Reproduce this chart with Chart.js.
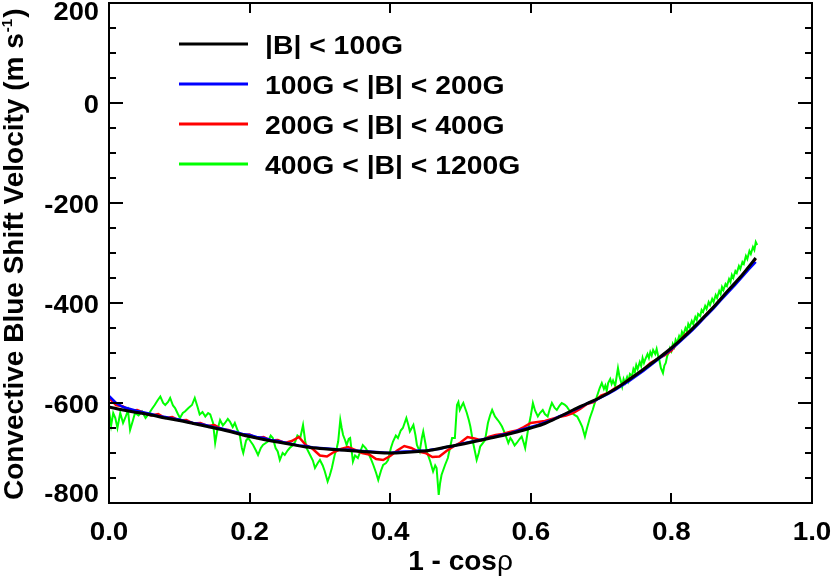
<!DOCTYPE html>
<html><head><meta charset="utf-8">
<script src="https://cdn.jsdelivr.net/npm/chart.js@4.4.1/dist/chart.umd.min.js"></script>
<style>html,body{margin:0;padding:0;background:#fff}#wrap{width:831px;height:576px;position:relative}</style>
</head><body><div id="wrap"><canvas id="c" width="831" height="576"></canvas></div>
<script>
const seriesLabels = ['|B| < 100G', '100G < |B| < 200G', '200G < |B| < 400G', '400G < |B| < 1200G'];
const seriesColors = ['#000000', '#0000ff', '#ff0000', '#00ff00'];
const xTickLabels = ['0.0', '0.2', '0.4', '0.6', '0.8', '1.0'];
const xTickValues = [0, 0.2, 0.4, 0.6, 0.8, 1.0];
const yTickLabels = ['-800', '-600', '-400', '-200', '0', '200'];
const yTickValues = [-800, -600, -400, -200, 0, 200];
const xTitle = ['1 - cos', 'ρ'];
const yTitle = ['Convective Blue Shift Velocity (m s', '-1', ')'];

const blackX = [0.00,0.02,0.04,0.06,0.08,0.10,0.12,0.14,0.16,0.18,0.20,0.22,0.24,0.26,0.28,0.30,0.32,0.34,0.36,0.38,0.40,0.42,0.44,0.46,0.48,0.50,0.52,0.54,0.56,0.58,0.60,0.62,0.64,0.66,0.68,0.70,0.72,0.74,0.76,0.78,0.80,0.82,0.84,0.86,0.88,0.90,0.92];
const blackY = [-608,-614,-619,-624,-630,-635,-641,-647,-653,-660,-667,-673,-678,-683,-688,-691,-693,-695,-697,-699,-700,-699,-697,-694,-688,-683,-677,-671,-665,-658,-650,-641,-628,-614,-601,-588,-572,-553,-533,-512,-490,-465,-437,-408,-376,-345,-310];

const fineX = [0.00,0.01,0.02,0.03,0.04,0.05,0.06,0.07,0.08,0.09,0.10,0.11,0.12,0.13,0.14,0.15,0.16,0.17,0.18,0.19,0.20,0.21,0.22,0.23,0.24,0.25,0.26,0.27,0.28,0.29,0.30,0.31,0.32,0.33,0.34,0.35,0.36,0.37,0.38,0.39,0.40,0.41,0.42,0.43,0.44,0.45,0.46,0.47,0.48,0.49,0.50,0.51,0.52,0.53,0.54,0.55,0.56,0.57,0.58,0.59,0.60,0.61,0.62,0.63,0.64,0.65,0.66,0.67,0.68,0.69,0.70,0.71,0.72,0.73,0.74,0.75,0.76,0.77,0.78,0.79,0.80,0.81,0.82,0.83,0.84,0.85,0.86,0.87,0.88,0.89,0.90,0.91,0.92];
const blueY = [-586,-600,-608,-612,-616,-619,-622,-626,-628,-631,-633,-637,-640,-642,-645,-649,-651,-655,-658,-662,-664,-668,-670,-674,-676,-679,-682,-685,-686,-689,-690,-691,-692,-694,-693,-695,-696,-697,-698,-699,-700,-698,-697,-697,-695,-696,-693,-692,-688,-686,-682,-679,-676,-673,-670,-667,-663,-661,-656,-652,-648,-644,-639,-634,-627,-622,-615,-609,-601,-596,-589,-582,-574,-565,-556,-546,-536,-525,-514,-503,-492,-480,-467,-454,-440,-425,-411,-395,-380,-365,-349,-333,-318];
const redY = [-590,-604,-607,-616,-614,-620,-625,-622,-630,-628,-635,-634,-641,-640,-646,-644,-652,-654,-659,-664,-663,-670,-668,-675,-674,-680,-676,-668,-684,-692,-705,-707,-698,-692,-688,-694,-700,-703,-712,-714,-706,-695,-686,-690,-697,-700,-708,-707,-696,-687,-679,-668,-671,-675,-668,-664,-662,-658,-655,-648,-640,-638,-636,-632,-628,-625,-620,-612,-602,-598,-585,-580,-570,-563,-552,-543,-533,-520,-512,-505,-495,-478,-463,-452,-439,-422,-408,-392,-377,-362,-346,-328,-312];

const greenX = [0.000,0.003,0.006,0.009,0.012,0.016,0.020,0.023,0.027,0.030,0.034,0.037,0.042,0.047,0.052,0.056,0.061,0.065,0.069,0.073,0.077,0.080,0.084,0.087,0.091,0.094,0.098,0.101,0.105,0.108,0.113,0.118,0.122,0.126,0.129,0.133,0.137,0.141,0.144,0.148,0.151,0.154,0.158,0.162,0.165,0.169,0.172,0.176,0.179,0.183,0.186,0.189,0.191,0.195,0.198,0.202,0.205,0.209,0.212,0.216,0.219,0.223,0.226,0.230,0.233,0.237,0.240,0.243,0.247,0.250,0.254,0.257,0.261,0.265,0.268,0.272,0.276,0.279,0.281,0.286,0.290,0.293,0.297,0.300,0.304,0.307,0.311,0.314,0.317,0.321,0.324,0.326,0.329,0.331,0.333,0.336,0.338,0.341,0.343,0.347,0.350,0.354,0.358,0.361,0.365,0.368,0.372,0.376,0.380,0.383,0.387,0.390,0.394,0.397,0.401,0.404,0.408,0.411,0.415,0.418,0.423,0.426,0.428,0.433,0.436,0.438,0.442,0.445,0.447,0.450,0.452,0.457,0.461,0.464,0.466,0.469,0.471,0.473,0.478,0.482,0.485,0.488,0.492,0.495,0.497,0.499,0.502,0.504,0.507,0.509,0.512,0.514,0.518,0.521,0.523,0.526,0.528,0.532,0.535,0.539,0.542,0.545,0.549,0.553,0.556,0.559,0.563,0.566,0.568,0.571,0.573,0.577,0.580,0.584,0.587,0.590,0.592,0.596,0.600,0.603,0.606,0.610,0.613,0.617,0.620,0.624,0.627,0.630,0.634,0.637,0.641,0.644,0.648,0.651,0.655,0.659,0.662,0.666,0.670,0.673,0.677,0.680,0.684,0.688,0.691,0.694,0.698,
  0.701,0.704,0.706,0.708,0.710,0.713,0.715,0.717,0.720,0.722,
  0.724,0.726,0.728,0.730,0.732,0.734,0.737,0.739,0.741,0.744,
  0.746,0.748,0.750,0.752,0.755,0.757,0.759,0.761,0.763,0.766,
  0.768,0.770,0.772,0.774,0.777,0.779,0.781,0.783,0.785,0.788,
  0.790,0.792,0.794,0.796,0.798,0.800,0.802,0.804,0.806,0.808,
  0.811,0.813,0.815,0.817,0.820,0.822,0.824,0.826,0.829,0.831,
  0.834,0.836,0.838,0.841,0.843,0.845,0.848,0.850,0.853,0.855,
  0.858,0.860,0.863,0.865,0.868,0.870,0.872,0.874,0.877,0.879,
  0.882,0.884,0.886,0.888,0.891,0.893,0.896,0.898,0.901,0.903,
  0.906,0.908,0.911,0.913,0.916,0.918,0.920,0.922];
const greenY = [-615,-645,-620,-630,-650,-620,-640,-630,-615,-654,-635,-620,-625,-617,-630,-623,-612,-604,-595,-587,-600,-604,-598,-590,-605,-610,-622,-630,-620,-617,-610,-604,-590,-608,-623,-618,-627,-620,-623,-640,-680,-655,-634,-645,-640,-632,-637,-648,-640,-655,-664,-690,-700,-675,-670,-678,-684,-695,-704,-690,-684,-680,-677,-665,-670,-690,-697,-714,-700,-704,-695,-690,-685,-677,-665,-670,-644,-675,-690,-704,-715,-730,-720,-714,-725,-737,-757,-745,-730,-704,-690,-677,-634,-650,-664,-675,-684,-672,-670,-717,-705,-710,-695,-684,-690,-697,-710,-724,-740,-754,-735,-724,-720,-714,-690,-677,-665,-670,-655,-650,-630,-645,-657,-644,-665,-684,-697,-670,-657,-680,-697,-717,-737,-725,-730,-784,-760,-744,-724,-710,-690,-670,-670,-604,-598,-614,-605,-600,-612,-620,-635,-647,-680,-700,-714,-700,-687,-680,-674,-640,-625,-614,-627,-634,-640,-647,-660,-672,-680,-670,-674,-685,-680,-672,-667,-680,-690,-654,-625,-600,-615,-627,-620,-614,-622,-627,-612,-600,-610,-614,-605,-600,-603,-607,-615,-620,-624,-627,-638,-647,-667,-650,-630,-614,-600,-587,-570,
  -560,-572,-565,-576,-560,-552,-562,-555,-566,-548,
  -530,-546,-556,-567,-552,-560,-548,-556,-542,-546,
  -532,-538,-524,-532,-518,-526,-510,-520,-512,-502,
  -510,-498,-505,-494,-502,-492,-505,-515,-530,-540,
  -525,-520,-506,-500,-490,-496,-482,-488,-474,-480,
  -466,-472,-458,-464,-450,-456,-442,-448,-436,-442,
  -428,-434,-422,-426,-414,-418,-406,-412,-398,-404,
  -392,-398,-384,-390,-376,-382,-368,-374,-362,-366,
  -352,-358,-344,-350,-336,-340,-326,-332,-318,-322,
  -306,-312,-296,-302,-288,-294,-278,-284];

function pts(xs, ys) { return xs.map((x, i) => ({x: x, y: ys[i]})); }

const FONT = '"Liberation Sans", Arial, Helvetica, sans-serif';

function sText(ctx, s, x, y, align, sx) {
  ctx.save();
  ctx.translate(x, y);
  ctx.scale(sx, 1);
  ctx.textAlign = align;
  ctx.fillText(s, 0, 0);
  ctx.restore();
}

const axesPlugin = {
  id: 'idlAxes',
  afterDatasetsDraw(chart) {
    const ctx = chart.ctx;
    const a = chart.chartArea;
    const xs = chart.scales.x, ys = chart.scales.y;
    ctx.save();
    ctx.strokeStyle = '#000';
    ctx.lineWidth = 2;
    ctx.strokeRect(a.left, a.top, a.right - a.left, a.bottom - a.top);
    ctx.beginPath();
    xTickValues.forEach(v => {
      const p = Math.round(xs.getPixelForValue(v));
      ctx.moveTo(p, a.bottom); ctx.lineTo(p, a.bottom - 10);
      ctx.moveTo(p, a.top); ctx.lineTo(p, a.top + 10);
    });
    for (let v = -800; v <= 200; v += 50) {
      const p = Math.round(ys.getPixelForValue(v));
      const len = (v % 200 === 0) ? 14 : 7;
      ctx.moveTo(a.left, p); ctx.lineTo(a.left + len, p);
      ctx.moveTo(a.right, p); ctx.lineTo(a.right - len, p);
    }
    ctx.stroke();

    ctx.fillStyle = '#000';
    ctx.font = 'bold 26px ' + FONT;
    ctx.textBaseline = 'alphabetic';
    xTickValues.forEach((v, i) => {
      sText(ctx, xTickLabels[i], xs.getPixelForValue(v), a.bottom + 37, 'center', 1.07);
    });
    yTickValues.forEach((v, i) => {
      const p = ys.getPixelForValue(v);
      let b = p + 10;
      b = Math.max(b, a.top + 17);
      b = Math.min(b, a.bottom - 1);
      sText(ctx, yTickLabels[i], a.left - 10, b, 'right', 1.05);
    });

    // x title
    ctx.textAlign = 'left';
    const f1 = 'bold 28px ' + FONT, f2 = '28px ' + FONT;
    ctx.font = f1; const w1 = ctx.measureText(xTitle[0]).width;
    ctx.font = f2; const w2 = ctx.measureText(xTitle[1]).width;
    const cx = (a.left + a.right) / 2;
    let sx = cx - (w1 + w2) / 2;
    ctx.font = f1; ctx.fillText(xTitle[0], sx, 570);
    ctx.font = f2; ctx.fillText(xTitle[1], sx + w1, 570);

    // y title
    ctx.save();
    ctx.translate(23, 500);
    ctx.rotate(-Math.PI / 2);
    const yf = 'bold 28px ' + FONT, sf = 'bold 15px ' + FONT;
    ctx.font = yf; ctx.fillText(yTitle[0], 0, 0);
    let off = ctx.measureText(yTitle[0]).width;
    ctx.font = sf; ctx.fillText(yTitle[1], off + 1, -11);
    off += ctx.measureText(yTitle[1]).width + 2;
    ctx.font = yf; ctx.fillText(yTitle[2], off, 0);
    ctx.restore();

    // legend
    chart.data.datasets.forEach((ds, i) => {
      const ly = 44 + 40 * i;
      ctx.strokeStyle = ds.borderColor;
      ctx.lineWidth = 3;
      ctx.beginPath(); ctx.moveTo(179, ly); ctx.lineTo(248, ly); ctx.stroke();
      ctx.font = 'bold 26px ' + FONT;
      ctx.fillStyle = '#000';
      sText(ctx, ds.label, 265, ly + 10, 'left', 1.09);
    });
    ctx.restore();
  }
};

new Chart(document.getElementById('c'), {
  type: 'line',
  data: {
    datasets: [
      {label: seriesLabels[0], data: pts(blackX, blackY), borderColor: seriesColors[0], borderWidth: 3, pointRadius: 0, tension: 0.4, cubicInterpolationMode: 'monotone'},
      {label: seriesLabels[1], data: pts(fineX, blueY), borderColor: seriesColors[1], borderWidth: 2.5, pointRadius: 0, tension: 0},
      {label: seriesLabels[2], data: pts(fineX, redY), borderColor: seriesColors[2], borderWidth: 2.5, pointRadius: 0, tension: 0},
      {label: seriesLabels[3], data: pts(greenX, greenY), borderColor: seriesColors[3], borderWidth: 2, pointRadius: 0, tension: 0}
    ]
  },
  options: {
    responsive: false,
    animation: false,
    devicePixelRatio: 1,
    layout: {padding: {left: 109, right: 19, top: 3, bottom: 73}},
    scales: {
      x: {type: 'linear', min: 0, max: 1, display: false},
      y: {type: 'linear', min: -800, max: 200, display: false}
    },
    plugins: {legend: {display: false}, tooltip: {enabled: false}}
  },
  plugins: [axesPlugin]
});
</script></body></html>
